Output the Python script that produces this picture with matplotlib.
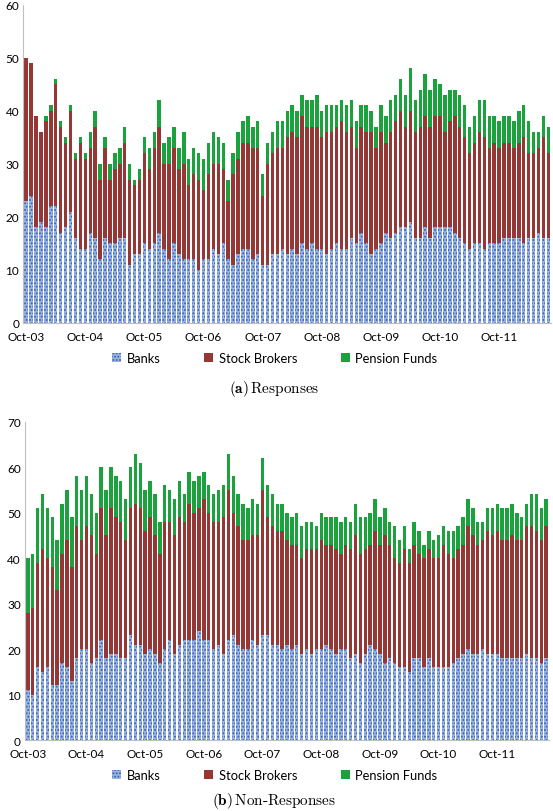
import matplotlib
matplotlib.use("Agg")
import matplotlib.pyplot as plt
import numpy as np
from matplotlib.patches import Patch

plt.rcParams["font.family"] = ["Lato", "DejaVu Sans"]
plt.rcParams["mathtext.fontset"] = "cm"
plt.rcParams["hatch.linewidth"] = 0.9

# month labels every 12 bars, Oct-03 .. Oct-11
TICK_LABELS = ["Oct-03", "Oct-04", "Oct-05", "Oct-06", "Oct-07",
               "Oct-08", "Oct-09", "Oct-10", "Oct-11"]
SERIES = ["Banks", "Stock Brokers", "Pension Funds"]

# (a) Responses, monthly from Oct-03
RESP_BANKS = [
    23, 24, 18, 19, 18, 22, 22, 17, 18, 21,
    16, 14, 14, 17, 16, 12, 16, 15, 15, 16,
    16, 11, 13, 13, 15, 14, 15, 17, 14, 12,
    15, 13, 12, 12, 12, 10, 12, 12, 14, 13,
    15, 12, 11, 13, 14, 14, 12, 13, 11, 11,
    13, 13, 14, 13, 14, 13, 15, 14, 15, 14,
    14, 13, 14, 15, 14, 14, 16, 15, 17, 15,
    13, 14, 15, 17, 16, 17, 18, 18, 19, 16,
    16, 18, 16, 18, 18, 18, 18, 17, 16, 15,
    14, 15, 15, 14, 15, 15, 15, 16, 16, 16,
    16, 15, 16, 16, 17, 16, 16,
]
RESP_BROKERS = [
    27, 25, 21, 17, 20, 18, 23, 20, 16, 19,
    15, 20, 17, 16, 21, 15, 17, 12, 14, 14,
    18, 16, 13, 14, 17, 15, 18, 20, 16, 18,
    18, 16, 18, 14, 16, 17, 13, 16, 16, 17,
    14, 11, 17, 18, 20, 20, 21, 20, 13, 19,
    19, 20, 19, 22, 22, 22, 24, 23, 22, 23,
    21, 23, 22, 22, 24, 22, 21, 18, 20, 21,
    23, 19, 21, 17, 20, 21, 22, 19, 21, 20,
    21, 21, 21, 21, 21, 18, 20, 22, 21, 20,
    18, 19, 21, 21, 18, 19, 18, 18, 18, 17,
    18, 20, 16, 16, 16, 19, 16,
]
RESP_PENSION = [
    0, 0, 0, 0, 1, 1, 1, 1, 1, 1,
    1, 1, 1, 3, 3, 3, 2, 3, 3, 3,
    3, 3, 1, 2, 3, 4, 3, 5, 4, 5,
    4, 4, 6, 5, 5, 5, 6, 6, 6, 5,
    5, 4, 4, 5, 4, 5, 4, 5, 4, 4,
    4, 5, 5, 5, 5, 5, 4, 5, 5, 6,
    5, 5, 5, 4, 4, 5, 5, 5, 4, 5,
    4, 4, 5, 5, 6, 5, 6, 6, 8, 6,
    7, 8, 7, 7, 6, 7, 6, 5, 6, 6,
    5, 5, 6, 7, 6, 5, 5, 5, 5, 5,
    6, 6, 6, 4, 3, 4, 5,
]

# (b) Non-Responses, monthly from Oct-03
NONRESP_BANKS = [
    11, 10, 16, 15, 16, 12, 12, 17, 16, 13,
    18, 20, 20, 17, 18, 22, 18, 19, 19, 18,
    18, 23, 21, 21, 19, 20, 19, 17, 20, 22,
    19, 21, 22, 22, 22, 24, 22, 22, 20, 21,
    19, 22, 23, 21, 20, 20, 22, 21, 23, 23,
    21, 21, 20, 21, 20, 21, 19, 20, 19, 20,
    20, 21, 20, 19, 20, 20, 18, 19, 17, 19,
    21, 20, 19, 17, 18, 17, 16, 16, 15, 18,
    18, 16, 18, 16, 16, 16, 16, 17, 18, 19,
    20, 19, 19, 20, 19, 19, 19, 18, 18, 18,
    18, 18, 19, 18, 18, 17, 18,
]
NONRESP_BROKERS = [
    17, 19, 23, 27, 24, 26, 21, 24, 28, 25,
    29, 24, 27, 28, 23, 29, 27, 32, 30, 30,
    26, 28, 31, 30, 27, 29, 26, 24, 28, 26,
    26, 28, 26, 30, 28, 27, 31, 28, 28, 27,
    30, 33, 27, 26, 24, 24, 23, 24, 32, 26,
    26, 25, 26, 23, 23, 22, 21, 22, 23, 22,
    24, 22, 23, 23, 21, 23, 24, 26, 24, 23,
    22, 26, 24, 28, 25, 23, 23, 26, 24, 25,
    23, 24, 24, 24, 24, 27, 25, 23, 24, 24,
    27, 26, 24, 24, 27, 26, 27, 26, 26, 27,
    26, 26, 28, 29, 28, 27, 29,
]
NONRESP_PENSION = [
    12, 12, 12, 12, 11, 11, 11, 11, 11, 11,
    11, 11, 11, 9, 9, 9, 10, 9, 9, 9,
    9, 9, 11, 10, 9, 8, 9, 7, 8, 7,
    8, 8, 6, 7, 7, 7, 6, 6, 6, 7,
    7, 8, 8, 7, 8, 7, 8, 7, 7, 7,
    7, 6, 6, 6, 6, 7, 7, 6, 6, 5,
    6, 6, 6, 7, 7, 6, 6, 7, 8, 7,
    7, 7, 6, 6, 5, 7, 5, 5, 3, 5,
    5, 3, 4, 4, 5, 4, 5, 6, 5, 6,
    6, 6, 5, 4, 5, 6, 6, 7, 7, 7,
    6, 5, 5, 7, 8, 7, 6,
]

C_BANKS = "#9ab3e2"
C_BANKS_DOT = "#3360b0"
C_BROKERS = "#953735"
C_PENSION = "#1aa33c"
C_AXIS = "#bfbfbf"


def stacked(ax, banks, brokers, pension, ymax):
    x = np.arange(len(banks))
    b = np.array(banks)
    s = np.array(brokers)
    p = np.array(pension)
    w = 0.7
    ax.bar(x, b, w, color=C_BANKS, edgecolor=C_BANKS_DOT, hatch=".....", linewidth=0)
    ax.bar(x, s, w, bottom=b, color=C_BROKERS, linewidth=0)
    ax.bar(x, p, w, bottom=b + s, color=C_PENSION, linewidth=0)
    ax.set_xlim(-0.6, len(banks) - 0.4)
    ax.set_ylim(0, ymax)
    ax.set_yticks(np.arange(0, ymax + 1, 10))
    ax.set_xticks(np.arange(0, len(TICK_LABELS) * 12, 12), TICK_LABELS)
    ax.tick_params(length=0, labelsize=8.5, colors="black", pad=3)
    ax.tick_params(axis="x", pad=6)
    for side in ("top", "right"):
        ax.spines[side].set_visible(False)
    for side in ("left", "bottom"):
        ax.spines[side].set_color(C_AXIS)
        ax.spines[side].set_linewidth(0.8)


def legend(fig, y):
    handles = [
        Patch(facecolor=C_BANKS, edgecolor=C_BANKS_DOT, hatch=".....", linewidth=0),
        Patch(facecolor=C_BROKERS, linewidth=0),
        Patch(facecolor=C_PENSION, linewidth=0),
    ]
    fig.legend(handles, SERIES, loc="center", bbox_to_anchor=(0.497, y), ncol=3,
               frameon=False, fontsize=9.3, handlelength=0.7, handleheight=0.7,
               handletextpad=0.4, columnspacing=3.4)


fig = plt.figure(figsize=(5.53, 8.12), dpi=100)

ax1 = fig.add_axes([0.042, 0.601, 0.955, 0.392])
stacked(ax1, RESP_BANKS, RESP_BROKERS, RESP_PENSION, 60)
legend(fig, 1 - 359 / 812)
fig.text(0.495, 1 - 389 / 812, r"$\mathbf{(a)}\,\mathrm{Responses}$",
         ha="center", va="center", fontsize=11)

ax2 = fig.add_axes([0.045, 0.0874, 0.948, 0.392])
stacked(ax2, NONRESP_BANKS, NONRESP_BROKERS, NONRESP_PENSION, 70)
legend(fig, 1 - 776 / 812)
fig.text(0.495, 1 - 801 / 812, r"$\mathbf{(b)}\,\mathrm{Non}$-$\mathrm{Responses}$",
         ha="center", va="center", fontsize=11, family="cmr10")

fig.savefig("out.png", dpi=100)
